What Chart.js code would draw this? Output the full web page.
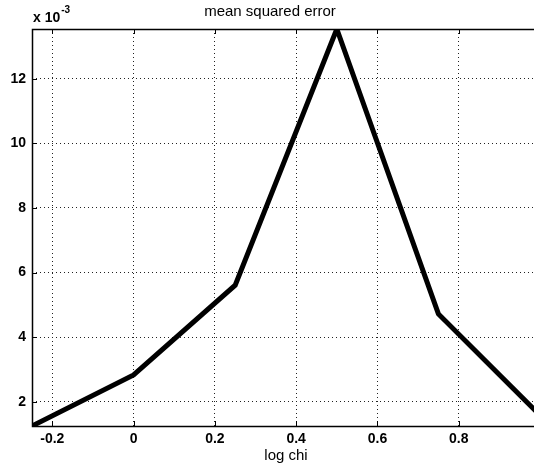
<!DOCTYPE html>
<html><head><meta charset="utf-8">
<script src="https://cdn.jsdelivr.net/npm/chart.js@4/dist/chart.umd.min.js"></script>
<style>
html,body{margin:0;padding:0;overflow:hidden;background:#fff;width:534px;height:470px}
#wrap{position:absolute;left:0;top:0;width:546px;height:470px}
</style>
</head><body>
<div id="wrap"><canvas id="c" width="546" height="470"></canvas></div>
<script>
// ---- data ----
const logChi = [-0.25, 0, 0.25, 0.5, 0.75, 1.0];
const mse = [1.25, 2.83, 5.61, 13.54, 4.72, 1.58]; // units of 10^-3
const xTicks = [-0.2, 0, 0.2, 0.4, 0.6, 0.8];
const yTicks = [2, 4, 6, 8, 10, 12];
const titleText = 'mean squared error';
const xLabel = 'log chi';
const exponentBase = 'x 10';
const exponentPower = '-3';

const FONT = '"Liberation Sans", Arial, Helvetica, sans-serif';

const framePlugin = {
  id: 'frame',
  afterDraw(chart) {
    const ctx = chart.ctx;
    const a = chart.chartArea;
    const xs = chart.scales.x, ys = chart.scales.y;
    ctx.save();
    ctx.strokeStyle = '#000';
    ctx.lineWidth = 1.5;
    ctx.setLineDash([]);
    ctx.strokeRect(Math.round(a.left) + 0.5, Math.round(a.top) + 0.5,
                   Math.round(a.right - a.left), Math.round(a.bottom - a.top));
    const L = 5;
    ctx.lineWidth = 1;
    ctx.beginPath();
    xTicks.forEach(v => {
      const px = Math.round(xs.getPixelForValue(v)) + 0.5;
      ctx.moveTo(px, a.bottom); ctx.lineTo(px, a.bottom - L);
      ctx.moveTo(px, a.top); ctx.lineTo(px, a.top + L);
    });
    yTicks.forEach(v => {
      const py = Math.round(ys.getPixelForValue(v)) + 0.5;
      ctx.moveTo(a.left, py); ctx.lineTo(a.left + L, py);
      ctx.moveTo(a.right, py); ctx.lineTo(a.right - L, py);
    });
    ctx.stroke();
    // exponent label
    ctx.fillStyle = '#000';
    ctx.textBaseline = 'alphabetic';
    ctx.textAlign = 'left';
    ctx.font = 'bold 14px ' + FONT;
    const x0 = a.left + 1;
    ctx.fillText(exponentBase, x0, 22);
    const w = ctx.measureText(exponentBase).width;
    ctx.font = 'bold 10px ' + FONT;
    ctx.fillText(exponentPower, x0 + w + 1, 13);
    ctx.restore();
  }
};

new Chart(document.getElementById('c'), {
  type: 'line',
  data: {
    datasets: [{
      data: logChi.map((x, i) => ({x: x, y: mse[i]})),
      borderColor: '#000',
      borderWidth: 5,
      pointRadius: 0,
      tension: 0,
      fill: false
    }]
  },
  options: {
    responsive: false,
    animation: false,
    devicePixelRatio: 1,
    layout: {padding: {left: 0, right: 6, top: 0, bottom: 0}},
    plugins: {
      legend: {display: false},
      tooltip: {enabled: false},
      title: {
        display: true,
        text: titleText,
        color: '#000',
        font: {family: FONT, size: 15, weight: 'normal', lineHeight: 1.2},
        padding: {top: 3, bottom: 8}
      }
    },
    scales: {
      x: {
        type: 'linear',
        min: -0.25,
        max: 1.0,
        afterBuildTicks: s => { s.ticks = xTicks.map(v => ({value: v})); },
        afterFit: s => { s.height = 44; },
        ticks: {
          color: '#000',
          padding: 5,
          maxRotation: 0,
          font: {family: FONT, size: 14, weight: 'bold'},
          callback: v => String(v)
        },
        grid: {color: '#222', lineWidth: 1, drawTicks: false},
        border: {display: false, dash: [1, 3]},
        title: {
          display: true,
          text: xLabel,
          color: '#000',
          font: {family: FONT, size: 15, lineHeight: 1.2},
          padding: {top: 0, bottom: 5}
        }
      },
      y: {
        type: 'linear',
        min: 1.25,
        max: 13.54,
        afterBuildTicks: s => { s.ticks = yTicks.map(v => ({value: v})); },
        afterFit: s => { s.width = 32; },
        ticks: {
          color: '#000',
          padding: 6,
          font: {family: FONT, size: 14, weight: 'bold'},
          callback: v => String(v)
        },
        grid: {color: '#222', lineWidth: 1, drawTicks: false},
        border: {display: false, dash: [1, 3]}
      }
    }
  },
  plugins: [framePlugin]
});
</script>
</body></html>
